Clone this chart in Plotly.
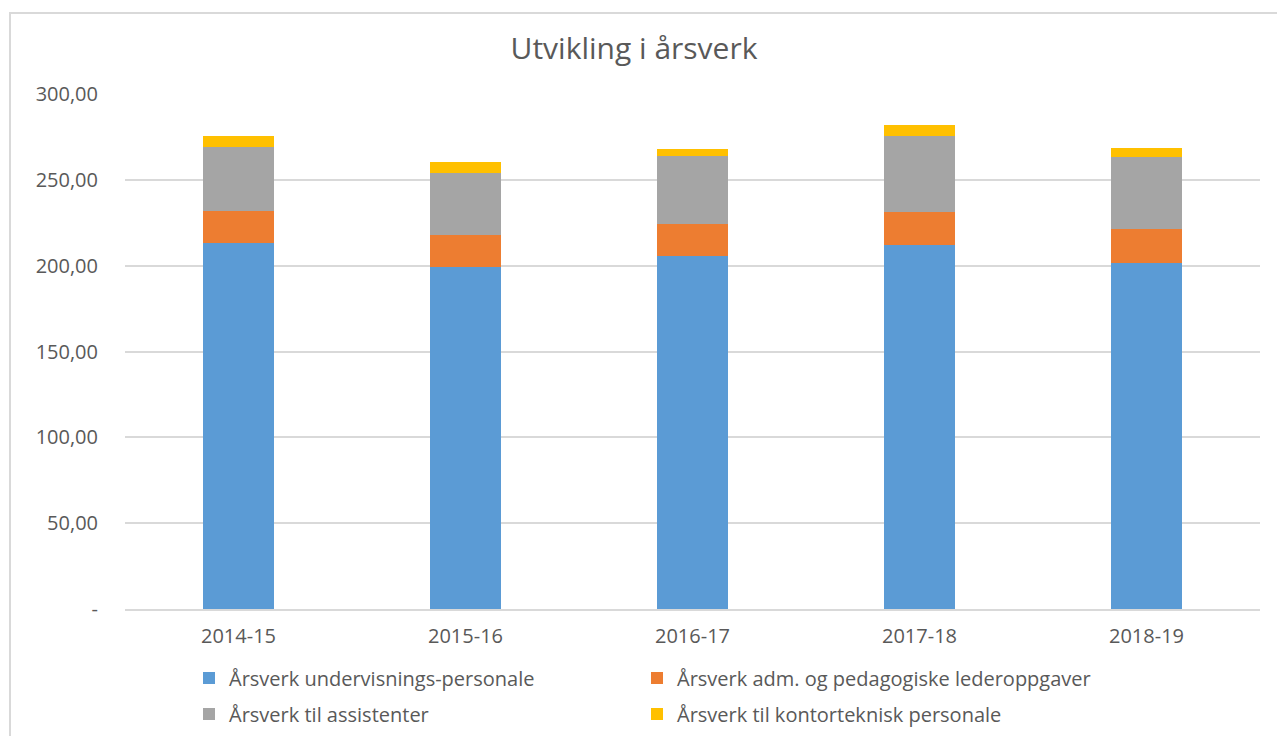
import plotly.graph_objects as go

# School years
years = ["2014-15", "2015-16", "2016-17", "2017-18", "2018-19"]

# Full-time equivalents per staff group
undervisning = [213.0, 199.0, 205.8, 212.0, 201.4]
adm_ledelse = [19.0, 18.9, 18.5, 19.4, 19.8]
assistenter = [37.3, 36.3, 39.8, 44.3, 42.3]
kontorteknisk = [6.4, 6.0, 3.7, 6.1, 5.2]

# Y-axis ticks (Norwegian number format, zero shown as a dash)
y_tickvals = [0, 50, 100, 150, 200, 250, 300]
y_ticktext = ["-", "50,00", "100,00", "150,00", "200,00", "250,00", "300,00"]

# name, values, colour, legend id, legend position (x px, y px)
series = [
    ("Årsverk undervisnings-personale", undervisning, "#5b9bd5", "legend", (189, 678)),
    ("Årsverk adm. og pedagogiske lederoppgaver", adm_ledelse, "#ed7d31", "legend2", (637, 678)),
    ("Årsverk til assistenter", assistenter, "#a5a5a5", "legend3", (189, 714)),
    ("Årsverk til kontorteknisk personale", kontorteknisk, "#ffc000", "legend4", (637, 714)),
]

FONT = "'Open Sans', Lato, sans-serif"
TEXT = "#595959"

fig = go.Figure()
for name, vals, color, leg, _ in series:
    fig.add_trace(go.Bar(
        x=years, y=vals, name=name, legend=leg, showlegend=True,
        marker=dict(color=color, line=dict(width=0)),
    ))

# plot area: x 125..1260, y 94..609 (px)
L, R, T, B = 125, 17, 94, 127
W = 1277 - L - R
H = 736 - T - B

def px_x(p):
    return (p - L) / W

def px_y(p):
    return (736 - B - p) / H

legend_common = dict(
    orientation="h",
    font=dict(family=FONT, size=20, color=TEXT),
    xref="container", yref="container",
    xanchor="left", yanchor="middle",
    bgcolor="rgba(0,0,0,0)",
    itemclick=False, itemdoubleclick=False,
)
legends = {
    leg: dict(x=pos[0] / 1277, y=1 - pos[1] / 736, **legend_common)
    for _, _, _, leg, pos in series
}

fig.update_layout(
    width=1277, height=736,
    showlegend=True,
    margin=dict(l=L, r=R, t=T, b=B, autoexpand=False),
    paper_bgcolor="white", plot_bgcolor="white",
    barmode="stack", bargap=0.69,
    font=dict(family=FONT, color=TEXT),
    title=dict(
        text="Utvikling i årsverk",
        font=dict(family=FONT, size=30, color=TEXT),
        x=634 / 1277, xanchor="center",
        y=1 - 48 / 736, yanchor="middle",
    ),
    xaxis=dict(
        showgrid=False, zeroline=False,
        showline=True, linecolor="#d9d9d9", linewidth=1.5,
        ticks="", tickfont=dict(family=FONT, size=20, color=TEXT),
        ticklabelstandoff=8,
    ),
    yaxis=dict(
        range=[0, 300], tickvals=y_tickvals, ticktext=y_ticktext,
        showgrid=True, gridcolor="#d9d9d9", gridwidth=1.5,
        zeroline=False, showline=False, ticks="",
        tickfont=dict(family=FONT, size=20, color=TEXT),
        ticklabelstandoff=26,
    ),
    shapes=[
        dict(
            type="rect", xref="paper", yref="paper",
            x0=px_x(10), x1=px_x(1290), y0=px_y(760), y1=px_y(13),
            line=dict(color="#d9d9d9", width=2), fillcolor="rgba(0,0,0,0)",
            layer="below",
        )
    ],
    **legends,
)

fig.write_html("out.html")
